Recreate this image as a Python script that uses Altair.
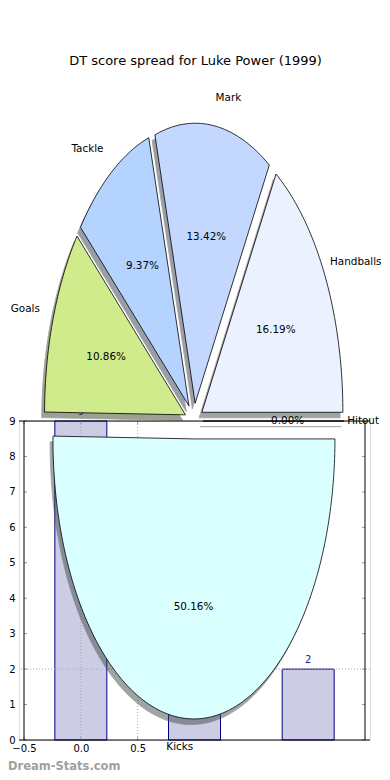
import math
import numpy as np
import pandas as pd
import altair as alt

# ------------------------------------------------------------------ data
TITLE = "DT score spread for Luke Power (1999)"
WATERMARK = "Dream-Stats.com"

pie_labels = ["Hitout", "Handballs", "Mark", "Tackle", "Goals", "Kicks"]
pie_pcts = [0.00, 16.19, 13.42, 9.37, 10.86, 50.16]
pie_colors = ["#FFFFFF", "#EBF1FF", "#C4D8FF", "#B4D4FF", "#D0EB8C", "#D9FFFF"]
pie_explode = [0.064, 0.064, 0.064, 0.064, 0.064, 0.064]

bar_x = [0, 1, 2]
bar_values = [9, 3, 2]
bar_text = ["9", "3", "2"]

x_tick_values = [-0.5, 0.0, 0.5]
y_tick_values = [0, 1, 2, 3, 4, 5, 6, 7, 8, 9]
grid_x = [0.0, 0.5]
grid_y = [2]

# ------------------------------------------------------------------ layout / style
W, H = 351, 319
PAD = {"left": 11, "top": 413, "right": 12, "bottom": 32}
X_DOMAIN = [-0.5, 2.5]
Y_DOMAIN = [0, 9]
PIE_CX, PIE_CY = 175.0, 0.0      # pie centre in plot-area pixels
PIE_RX, PIE_RY = 141.0, 280.0    # elliptical radii in pixels
LABEL_DIST, PCT_DIST = 1.1, 0.6
SHADOW_DX, SHADOW_DY = -0.02, -0.02
FONT = "DejaVu Sans"
LABEL_FS = 10.4
CHAR_W = 0.55 * LABEL_FS         # rough text width per character

PIE_X_DOMAIN = [(0 - PIE_CX) / PIE_RX, (W - PIE_CX) / PIE_RX]
PIE_Y_DOMAIN = [(PIE_CY - H) / PIE_RY, (PIE_CY - 0) / PIE_RY]
RIGHT_LIMIT_PX = W + PAD["right"] - 0.5  # keep labels inside the drawing


def shade(hexc):
    r, g, b = (int(hexc[i:i + 2], 16) for i in (1, 3, 5))
    return "#%02x%02x%02x" % (int(0.3 * r), int(0.3 * g), int(0.3 * b))


# ------------------------------------------------------------------ pie geometry from the percentages
poly_rows, text_rows = [], []
theta = 0.0
for lab, pct, col, ex in zip(pie_labels, pie_pcts, pie_colors, pie_explode):
    t1 = theta
    t2 = theta + pct / 100.0 * 360.0
    tm = math.radians((t1 + t2) / 2)
    ax, ay = ex * math.cos(tm), ex * math.sin(tm)
    n = max(2, int(abs(t2 - t1)) + 2)
    angs = np.radians(np.linspace(t1, t2, n))
    pts = [(ax, ay)] + [(ax + math.cos(a), ay + math.sin(a)) for a in angs] + [(ax, ay)]
    for i, (u, v) in enumerate(pts):
        poly_rows.append({"cat": lab, "i": i, "u": u, "v": v,
                          "su": u + SHADOW_DX, "sv": v + SHADOW_DY,
                          "fillc": col, "shadec": shade(col)})
    xt = ax + LABEL_DIST * math.cos(tm)
    yt = ay + LABEL_DIST * math.sin(tm)
    kind = "left" if xt > 0 else "right"
    if kind == "left":
        umax = (RIGHT_LIMIT_PX - CHAR_W * len(lab) - PIE_CX) / PIE_RX
        xt = min(xt, umax)
    text_rows.append({"text": lab, "u": xt, "v": yt, "kind": kind})
    text_rows.append({"text": "%.2f%%" % pct, "u": ax + PCT_DIST * math.cos(tm),
                      "v": ay + PCT_DIST * math.sin(tm), "kind": "center"})
    theta = t2

poly = pd.DataFrame(poly_rows)
texts = pd.DataFrame(text_rows)

# ------------------------------------------------------------------ bar part
bdf = pd.DataFrame({"x": bar_x, "value": bar_values, "label": bar_text})

x_axis = alt.Axis(values=x_tick_values, format=".1f",
                  labelExpr="replace(datum.label, '-', '\u2212')",
                  ticks=False, domain=False, grid=False, title=None,
                  labelPadding=3, labelFontSize=10, labelColor="black", labelFont=FONT)
y_axis = alt.Axis(values=y_tick_values, ticks=False, domain=False, grid=False, title=None,
                  labelPadding=4, labelFontSize=10, labelColor="black", labelFont=FONT)
bx = alt.X("x:Q", scale=alt.Scale(domain=X_DOMAIN, nice=False, zero=False), axis=x_axis)
by = alt.Y("value:Q", scale=alt.Scale(domain=Y_DOMAIN, nice=False), axis=y_axis)

bars = alt.Chart(bdf).mark_bar(size=52, fill="#CCCCE4", stroke="#000080", strokeWidth=1).encode(x=bx, y=by)
bar_lbl = alt.Chart(bdf).mark_text(dy=-9, color="#22228a", fontSize=10, font=FONT).encode(
    x=bx, y=by, text="label:N")

grid_v = alt.Chart(pd.DataFrame({"x": grid_x})).mark_rule(
    color="#aaaaaa", strokeDash=[1, 2], strokeWidth=1).encode(x=bx)
grid_h = alt.Chart(pd.DataFrame({"value": grid_y})).mark_rule(
    color="#aaaaaa", strokeDash=[1, 2], strokeWidth=1).encode(y=by)

tick_col = "#999999"
lt = pd.DataFrame({"x": [X_DOMAIN[0]] * len(y_tick_values), "value": y_tick_values})
rt = pd.DataFrame({"x": [X_DOMAIN[1]] * len(y_tick_values), "value": y_tick_values})
bt = pd.DataFrame({"x": x_tick_values, "value": [Y_DOMAIN[0]] * len(x_tick_values)})
tt = pd.DataFrame({"x": x_tick_values, "value": [Y_DOMAIN[1]] * len(x_tick_values)})
tick_l = alt.Chart(lt).mark_rule(x2Offset=3, color=tick_col).encode(x=bx, x2="x:Q", y=by)
tick_r = alt.Chart(rt).mark_rule(x2Offset=-3, color=tick_col).encode(x=bx, x2="x:Q", y=by)
tick_b = alt.Chart(bt).mark_rule(y2Offset=-3, color=tick_col).encode(x=bx, y=by, y2="value:Q")
tick_t = alt.Chart(tt).mark_rule(y2Offset=3, color=tick_col).encode(x=bx, y=by, y2="value:Q")

# frame (spines) on the domain edges
frame_v = alt.Chart(pd.DataFrame({"x": X_DOMAIN})).mark_rule(color="black", strokeWidth=1).encode(x=bx)
frame_h = alt.Chart(pd.DataFrame({"value": Y_DOMAIN})).mark_rule(color="black", strokeWidth=1).encode(y=by)

bar_part = alt.layer(bars, grid_v, grid_h, tick_l, tick_r, tick_b, tick_t,
                     frame_v, frame_h, bar_lbl)

# ------------------------------------------------------------------ pie part
pxs = alt.Scale(domain=PIE_X_DOMAIN, nice=False, zero=False)
pys = alt.Scale(domain=PIE_Y_DOMAIN, nice=False, zero=False)

shadows = alt.Chart(poly).mark_line(strokeWidth=0.8, opacity=0.5).encode(
    x=alt.X("su:Q", scale=pxs, axis=None),
    y=alt.Y("sv:Q", scale=pys, axis=None),
    detail="cat:N", order="i:Q",
    fill=alt.Fill("shadec:N", scale=None),
    stroke=alt.Stroke("shadec:N", scale=None),
)
wedges = alt.Chart(poly).mark_line(strokeWidth=0.8, stroke="black").encode(
    x=alt.X("u:Q", scale=pxs, axis=None),
    y=alt.Y("v:Q", scale=pys, axis=None),
    detail="cat:N", order="i:Q",
    fill=alt.Fill("fillc:N", scale=None),
)


def text_layer(kind):
    return alt.Chart(texts).transform_filter(alt.datum.kind == kind).mark_text(
        align=kind, baseline="middle", font=FONT, fontSize=LABEL_FS, color="black").encode(
        x=alt.X("u:Q", scale=pxs, axis=None),
        y=alt.Y("v:Q", scale=pys, axis=None),
        text="text:N")


title = alt.Chart(pd.DataFrame({"t": [TITLE]})).mark_text(
    align="center", baseline="middle", font=FONT, fontSize=13, color="black").encode(
    x=alt.value(176.5), y=alt.value(-360), text="t:N")
wm = alt.Chart(pd.DataFrame({"t": [WATERMARK]})).mark_text(
    align="left", baseline="middle", font=FONT, fontSize=11.5, fontWeight="bold",
    color="#a0a0a0").encode(x=alt.value(-11), y=alt.value(346), text="t:N")

pie_part = alt.layer(shadows, wedges, text_layer("left"), text_layer("right"),
                     text_layer("center"), title, wm)

chart = alt.layer(bar_part, pie_part).resolve_scale(
    x="independent", y="independent"
).properties(
    width=W, height=H, padding=PAD, autosize=alt.AutoSizeParams(type="none")
).configure_view(stroke=None).configure(font=FONT)

chart.save("out.html", embed_options={"renderer": "svg", "actions": False})
